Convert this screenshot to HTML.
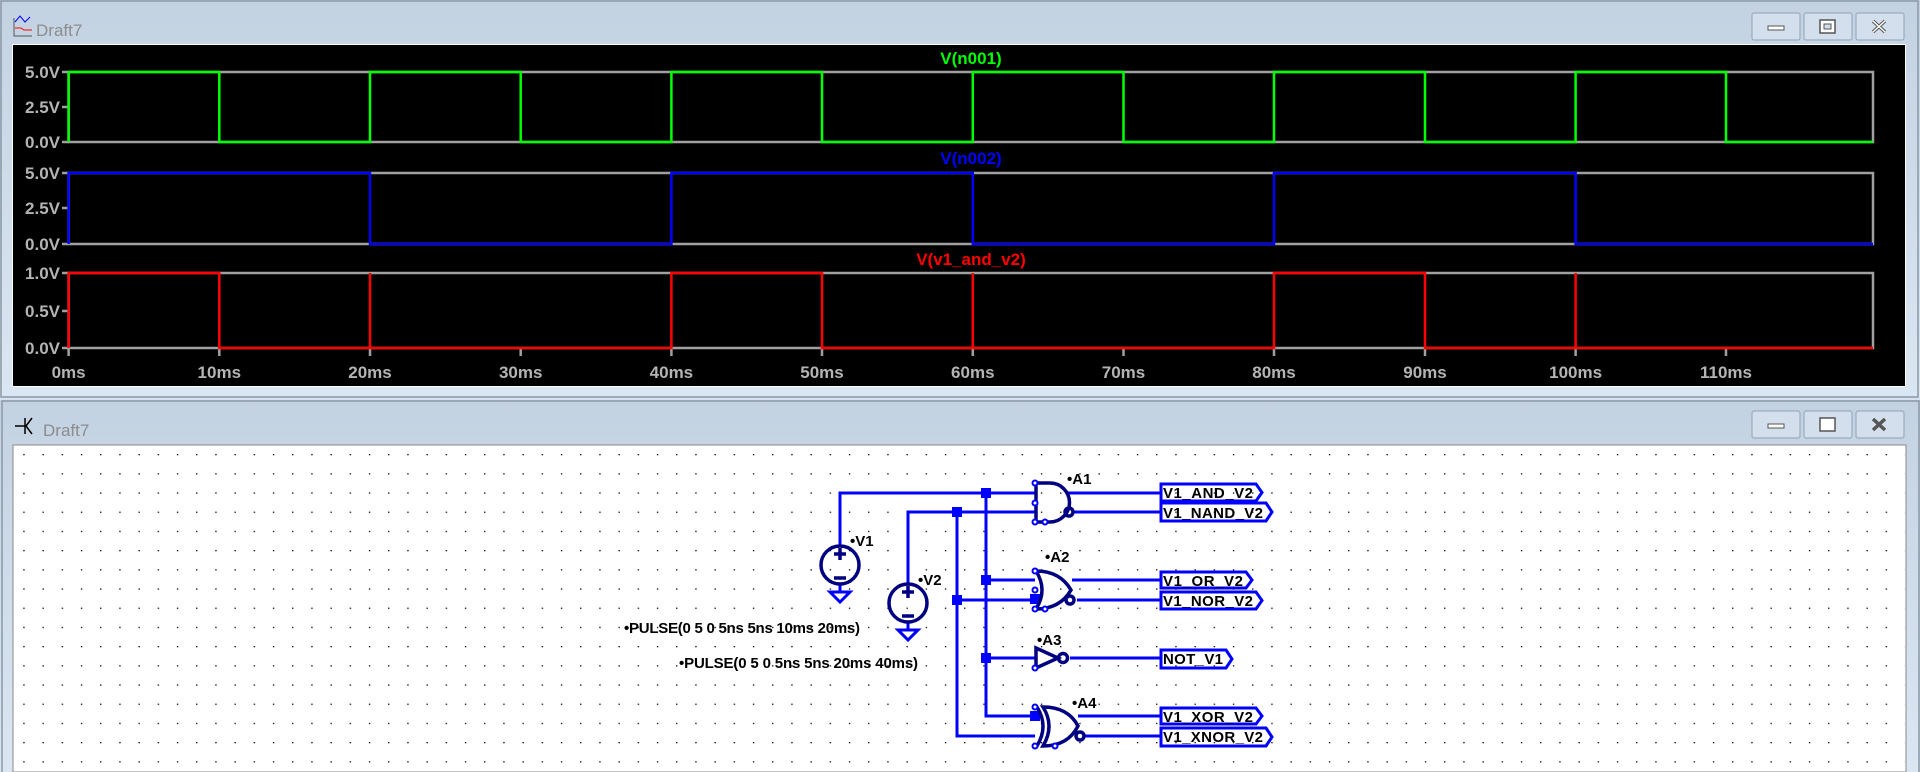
<!DOCTYPE html>
<html><head><meta charset="utf-8"><style>
html,body{margin:0;padding:0;width:1920px;height:772px;overflow:hidden;background:#d6e2ef;}
svg{display:block}
text{font-family:"Liberation Sans",sans-serif}
</style></head><body>
<svg width="1920" height="772" viewBox="0 0 1920 772" xmlns="http://www.w3.org/2000/svg">
<defs>
<linearGradient id="tb" x1="0" y1="0" x2="0" y2="1"><stop offset="0" stop-color="#c3d2e2"/><stop offset="1" stop-color="#dbe6f2"/></linearGradient>
<pattern id="dots" x="4.1" y="12.4" width="19.2" height="19.2" patternUnits="userSpaceOnUse"><rect x="0" y="0" width="1.3" height="1.3" fill="#000"/></pattern>
</defs>
<rect x="0" y="0" width="1920" height="398" fill="url(#tb)"/>
<rect x="1" y="1" width="1917" height="396" fill="none" stroke="#8a97a6" stroke-width="1.5"/>
<rect x="12" y="44" width="1894" height="343" fill="#fff"/>
<rect x="13" y="45" width="1892" height="341" fill="#000"/>
<text x="36" y="36" font-size="17" fill="#8c8c8c">Draft7</text>
<g fill="#fff" stroke="#555" stroke-width="1"><path d="M14 18v18h18" fill="none"/></g>
<path d="M15 22l5-6 5 6 5-5" stroke="#00f" fill="none"/><path d="M15 28h6l3 2h8" stroke="#f00" fill="none"/>
<g stroke="#8ea2b8" fill="#d3dfec">
<rect x="1752" y="13" width="48" height="27" rx="2"/><rect x="1804" y="13" width="48" height="27" rx="2"/><rect x="1856" y="13" width="48" height="27" rx="2"/>
</g>
<rect x="1768" y="26" width="16" height="4" fill="#fff" stroke="#555"/>
<rect x="1820" y="20" width="15" height="13" fill="#fff" stroke="#555" stroke-width="1.5"/><rect x="1824" y="24" width="7" height="5" fill="#d3dfec" stroke="#555"/>
<path d="M1873 21l12 11M1885 21l-12 11" stroke="#555" stroke-width="3.5"/>
<path d="M1873 21l12 11M1885 21l-12 11" stroke="#fff" stroke-width="1.5"/>
<g fill="none" stroke="#a0a0a0" stroke-width="2.5">
<rect x="68.6" y="72" width="1804.4" height="70"/>
<rect x="68.6" y="173" width="1804.4" height="71"/>
<rect x="68.6" y="273" width="1804.4" height="75"/>
<path d="M62 72h7M62 107h7M62 142h7M62 173h7M62 208h7M62 244h7M62 273h7M62 311h7M62 348h7"/>
<path d="M68.6 348v8M219.3 348v8M370 348v8M520.7 348v8M671.4 348v8M822 348v8M972.8 348v8M1123.5 348v8M1274 348v8M1425 348v8M1575.6 348v8M1726 348v8"/>
</g>
<g font-size="17" font-weight="bold" fill="#b4b4b4" text-anchor="end">
<text x="60" y="78">5.0V</text><text x="60" y="113">2.5V</text><text x="60" y="148">0.0V</text>
<text x="60" y="179">5.0V</text><text x="60" y="214">2.5V</text><text x="60" y="250">0.0V</text>
<text x="60" y="279">1.0V</text><text x="60" y="317">0.5V</text><text x="60" y="354">0.0V</text>
</g>
<g font-size="17" font-weight="bold" fill="#b4b4b4" text-anchor="middle">
<text x="68.6" y="378">0ms</text><text x="219.3" y="378">10ms</text><text x="370" y="378">20ms</text><text x="520.7" y="378">30ms</text><text x="671.4" y="378">40ms</text><text x="822" y="378">50ms</text><text x="972.8" y="378">60ms</text><text x="1123.5" y="378">70ms</text><text x="1274" y="378">80ms</text><text x="1425" y="378">90ms</text><text x="1575.6" y="378">100ms</text><text x="1726" y="378">110ms</text>
</g>
<g font-size="17" font-weight="bold" text-anchor="middle">
<text x="971" y="64" fill="#00ff00">V(n001)</text>
<text x="971" y="164" fill="#0000ff">V(n002)</text>
<text x="971" y="265" fill="#ff0000">V(v1_and_v2)</text>
</g>
<g fill="none" stroke-width="2.5">
<path stroke="#00ff00" d="M68.6,142 V72 H219.3 V142 H370 V72 H520.7 V142 H671.4 V72 H822 V142 H972.8 V72 H1123.5 V142 H1274 V72 H1425 V142 H1575.6 V72 H1726 V142 H1873"/>
<path stroke="#0000ff" d="M68.6,244 V173 H370 V244 H671.4 V173 H972.8 V244 H1274 V173 H1575.6 V244 H1873"/>
<path stroke="#ff0000" d="M68.6,348 V273 H219.3 V348 H370 V273 V348 H671.4 V273 H822 V348 H972.8 V273 V348 H1274 V273 H1425 V348 H1575.6 V273 V348 H1873"/>
</g>
<rect x="0" y="400" width="1920" height="372" fill="url(#tb)"/>
<rect x="2" y="401" width="1917" height="380" fill="none" stroke="#8a97a6" stroke-width="1.5"/>
<rect x="13" y="445" width="1893" height="327" fill="#fff" stroke="#888"/>
<rect x="14" y="446" width="1891" height="326" fill="url(#dots)"/>
<text x="43" y="436" font-size="17" fill="#8c8c8c">Draft7</text>
<path d="M15 426h10M25 418v16M26 426l6-8M26 426l6 8" stroke="#000" stroke-width="1.5" fill="none"/>
<g stroke="#8ea2b8" fill="#d3dfec">
<rect x="1752" y="411" width="48" height="27" rx="2"/><rect x="1804" y="411" width="48" height="27" rx="2"/><rect x="1856" y="411" width="48" height="27" rx="2"/>
</g>
<rect x="1768" y="424" width="16" height="4" fill="#fff" stroke="#555"/>
<rect x="1820" y="418" width="15" height="13" fill="#fff" stroke="#555" stroke-width="1.5"/>
<path d="M1873 419l12 11M1885 419l-12 11" stroke="#555" stroke-width="3.5"/>
<g stroke="#0000ff" stroke-width="3" fill="none">
<path d="M840 546V493H1035"/>
<path d="M908 584V512H1035"/>
<path d="M986 493V716H1035"/>
<path d="M957 512V736H1035"/>
<path d="M986 580H1035M957 600H1035M986 658H1035"/>
<path d="M1068 493H1161M1074 512H1161M1072 580H1161M1077 600H1161M1070 658H1161M1078 716H1161M1085 736H1161"/>
<path d="M830 592h20l-10 10z M898 630h20l-10 10z"/>
<path d="M840 585v7M908 622v8"/>
</g>
<g fill="#0000ff">
<rect x="981" y="488" width="10" height="10"/><rect x="952" y="507" width="10" height="10"/>
<rect x="981" y="575" width="10" height="10"/><rect x="952" y="595" width="10" height="10"/>
<rect x="981" y="653" width="10" height="10"/><rect x="1030" y="594" width="10" height="10"/><rect x="1030" y="711" width="10" height="10"/>
</g>
<g stroke="#000080" stroke-width="3.5" fill="none">
<circle cx="840" cy="565" r="19"/><circle cx="908" cy="603" r="19"/>
<path d="M834 554h12M840 548v12M834 578h12M902 592h12M908 586v12M902 616h12"/>
<path d="M1036 483V522H1050A19.5 19.5 0 0 0 1050 483Z"/>
<circle cx="1069" cy="512" r="4"/>
<path d="M1036 571Q1048 590 1036 609Q1060 609 1071 590Q1060 571 1036 571Z"/>
<circle cx="1070" cy="600" r="4"/>
<path d="M1036 648V668L1058 658Z"/><circle cx="1063" cy="658" r="4.5"/>
<path d="M1043 707Q1055 726 1043 746Q1068 746 1078 726Q1068 707 1043 707Z"/>
<path d="M1037 707Q1049 726 1037 746"/>
<circle cx="1080" cy="736" r="4"/>
</g>
<g stroke="#0000ff" stroke-width="2" fill="#fff">
<circle cx="1035" cy="483" r="2.5"/><circle cx="1035" cy="503" r="2.5"/><circle cx="1035" cy="522" r="2.5"/><circle cx="1045" cy="522" r="2.5"/>
<circle cx="1035" cy="571" r="2.5"/><circle cx="1035" cy="590" r="2.5"/><circle cx="1035" cy="609" r="2.5"/><circle cx="1045" cy="609" r="2.5"/>
<circle cx="1035" cy="668" r="2.5"/>
<circle cx="1035" cy="707" r="2.5"/><circle cx="1035" cy="746" r="2.5"/><circle cx="1055" cy="746" r="2.5"/>
</g>
<g stroke="#0000ff" stroke-width="3" fill="none">
<path d="M1161 484H1256L1262 492.5L1256 501H1161Z"/>
<path d="M1161 503H1266L1272 512L1266 521H1161Z"/>
<path d="M1161 572H1246L1252 580L1246 588H1161Z"/>
<path d="M1161 592H1256L1262 600.5L1256 609H1161Z"/>
<path d="M1161 650H1226L1232 659L1226 668H1161Z"/>
<path d="M1161 708H1256L1262 716L1256 724H1161Z"/>
<path d="M1161 728H1266L1272 737L1266 746H1161Z"/>
</g>
<g font-size="15" font-weight="bold" fill="#000">
<text x="1163" y="498" textLength="90">V1_AND_V2</text>
<text x="1163" y="518" textLength="100">V1_NAND_V2</text>
<text x="1163" y="586" textLength="80">V1_OR_V2</text>
<text x="1163" y="606" textLength="90">V1_NOR_V2</text>
<text x="1163" y="664" textLength="60">NOT_V1</text>
<text x="1163" y="722" textLength="90">V1_XOR_V2</text>
<text x="1163" y="742" textLength="100">V1_XNOR_V2</text>
<text x="1067" y="484">•A1</text>
<text x="1045" y="562">•A2</text>
<text x="1037" y="645">•A3</text>
<text x="1072" y="708">•A4</text>
<text x="850" y="546">•V1</text>
<text x="918" y="585">•V2</text>
<text x="624" y="633" textLength="236">•PULSE(0 5 0 5ns 5ns 10ms 20ms)</text>
<text x="679" y="668" textLength="239">•PULSE(0 5 0 5ns 5ns 20ms 40ms)</text>
</g>
</svg>
</body></html>
